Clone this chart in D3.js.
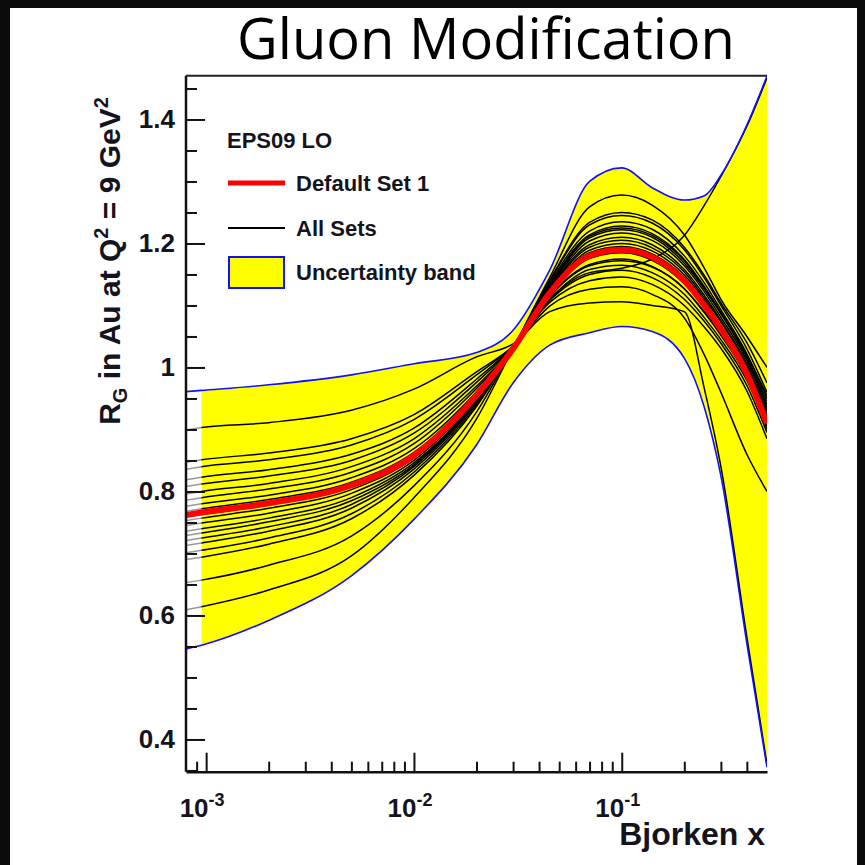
<!DOCTYPE html>
<html>
<head>
<meta charset="utf-8">
<script src="https://cdn.jsdelivr.net/npm/d3@7"></script>
<style>
  body { margin: 0; background: #000; }
  svg { display: block; }
</style>
</head>
<body>
<svg id="chart" width="865" height="865"></svg>
<script>
// Bjorken x knots shared by every curve
const knots = [8e-4, 9.5e-4, 2e-3, 5e-3, 0.01, 0.02, 0.03, 0.045, 0.07, 0.1, 0.14, 0.2, 0.25, 0.3, 0.4, 0.5];

const bandUpper = [0.961, 0.963, 0.972, 0.988, 1.006, 1.024, 1.06, 1.157, 1.30, 1.322, 1.29, 1.27, 1.277, 1.31, 1.391, 1.47];
const bandLower = [0.546, 0.552, 0.592, 0.664, 0.755, 0.875, 0.975, 1.036, 1.056, 1.066, 1.058, 1.015, 0.935, 0.825, 0.555, 0.355];
const defaultSet = [0.762, 0.766, 0.781, 0.81, 0.858, 0.955, 1.03, 1.12, 1.18, 1.19, 1.178, 1.14, 1.10, 1.062, 0.99, 0.91];

// the error sets (black lines)
const allSets = [
  [0.899, 0.903, 0.911, 0.931, 0.965, 1.017, 1.038, 1.09, 1.104, 1.106, 1.10, 1.09, 0.965, 0.84, 0.565, 0.36],
  [0.847, 0.851, 0.862, 0.885, 0.924, 0.993, 1.034, 1.099, 1.126, 1.13, 1.118, 1.08, 1.02, 0.96, 0.86, 0.80],
  [0.836, 0.840, 0.851, 0.875, 0.916, 0.988, 1.035, 1.105, 1.14, 1.146, 1.134, 1.10, 1.065, 1.031, 0.962, 0.885],
  [0.819, 0.823, 0.835, 0.86, 0.902, 0.981, 1.034, 1.108, 1.15, 1.157, 1.145, 1.11, 1.074, 1.039, 0.971, 0.895],
  [0.808, 0.812, 0.825, 0.85, 0.894, 0.976, 1.033, 1.11, 1.158, 1.165, 1.153, 1.118, 1.08, 1.045, 0.979, 0.905],
  [0.796, 0.80, 0.813, 0.84, 0.885, 0.97, 1.031, 1.11, 1.153, 1.16, 1.175, 1.213, 1.262, 1.308, 1.389, 1.467],
  [0.786, 0.79, 0.804, 0.831, 0.877, 0.966, 1.031, 1.115, 1.166, 1.175, 1.163, 1.127, 1.088, 1.052, 0.985, 0.91],
  [0.776, 0.78, 0.794, 0.822, 0.869, 0.961, 1.031, 1.118, 1.176, 1.185, 1.173, 1.135, 1.096, 1.059, 0.99, 0.915],
  [0.768, 0.772, 0.787, 0.815, 0.863, 0.958, 1.032, 1.123, 1.189, 1.20, 1.188, 1.149, 1.108, 1.066, 0.985, 0.90],
  [0.759, 0.763, 0.778, 0.808, 0.857, 0.954, 1.029, 1.114, 1.164, 1.172, 1.162, 1.127, 1.09, 1.057, 0.995, 0.93],
  [0.764, 0.768, 0.783, 0.812, 0.859, 0.955, 1.031, 1.13, 1.209, 1.222, 1.21, 1.168, 1.126, 1.087, 1.02, 0.955],
  [0.753, 0.757, 0.773, 0.803, 0.854, 0.953, 1.03, 1.122, 1.185, 1.195, 1.183, 1.145, 1.104, 1.066, 0.996, 0.92],
  [0.745, 0.749, 0.765, 0.797, 0.85, 0.951, 1.031, 1.125, 1.194, 1.205, 1.193, 1.154, 1.112, 1.073, 1.002, 0.925],
  [0.736, 0.74, 0.757, 0.79, 0.846, 0.948, 1.032, 1.127, 1.198, 1.21, 1.198, 1.158, 1.116, 1.076, 1.006, 0.93],
  [0.729, 0.733, 0.751, 0.785, 0.843, 0.947, 1.033, 1.129, 1.204, 1.217, 1.205, 1.164, 1.122, 1.081, 1.011, 0.935],
  [0.721, 0.725, 0.743, 0.779, 0.84, 0.945, 1.032, 1.132, 1.212, 1.225, 1.213, 1.172, 1.128, 1.087, 1.015, 0.94],
  [0.713, 0.717, 0.736, 0.773, 0.836, 0.943, 1.032, 1.136, 1.22, 1.235, 1.223, 1.18, 1.136, 1.093, 1.022, 0.95],
  [0.701, 0.705, 0.725, 0.764, 0.831, 0.94, 1.03, 1.133, 1.214, 1.228, 1.216, 1.174, 1.13, 1.089, 1.017, 0.945],
  [0.69, 0.694, 0.715, 0.756, 0.826, 0.937, 1.031, 1.139, 1.23, 1.245, 1.233, 1.19, 1.144, 1.10, 1.03, 0.96],
  [0.653, 0.657, 0.681, 0.728, 0.809, 0.928, 1.031, 1.141, 1.234, 1.25, 1.238, 1.194, 1.148, 1.104, 1.04, 0.975],
  [0.609, 0.614, 0.641, 0.696, 0.79, 0.917, 1.031, 1.145, 1.259, 1.278, 1.262, 1.214, 1.16, 1.11, 1.05, 1.0]
];

const yMajorTicks = [0.4, 0.6, 0.8, 1, 1.2, 1.4];
const yTickLabels = ['0.4', '0.6', '0.8', '1', '1.2', '1.4'];
const xMajorTicks = [1e-3, 1e-2, 1e-1];
const xTickExponents = ['-3', '-2', '-1'];

const svg = d3.select('#chart');
const W = 865, H = 865;
const pLeft = 186, pRight = 767, pTop = 75.7, pBottom = 771.7;
const font = "'Liberation Sans', Arial, Helvetica, sans-serif";
const ink = '#141420';

// black slide border + white page
svg.append('rect').attr('width', W).attr('height', H).attr('fill', '#0b0b0b');
svg.append('rect').attr('x', 10).attr('y', 8).attr('width', 847).attr('height', H - 8).attr('fill', '#fff');

svg.append('text')
  .attr('x', 486).attr('y', 59)
  .attr('text-anchor', 'middle')
  .attr('font-family', "'Open Sans', 'Noto Sans', sans-serif")
  .attr('font-size', 56)
  .attr('textLength', 498)
  .attr('lengthAdjust', 'spacingAndGlyphs')
  .attr('fill', '#000')
  .text('Gluon Modification');

const x = d3.scaleLog().domain([8e-4, 0.5]).range([pLeft, pRight]);
const y = d3.scaleLinear().domain([0.348, 1.4706]).range([pBottom, pTop]);

const pts = vals => vals.map((v, i) => [knots[i], v]);

const line = d3.line()
  .x(d => x(d[0])).y(d => y(d[1]))
  .curve(d3.curveMonotoneX);

const area = d3.area()
  .x(d => x(d[0])).y0(d => y(d[1])).y1(d => y(d[2]))
  .curve(d3.curveMonotoneX);

svg.append('clipPath').attr('id', 'plotclip')
  .append('rect').attr('x', pLeft).attr('y', pTop).attr('width', pRight - pLeft).attr('height', pBottom - pTop + 4);

const plot = svg.append('g').attr('clip-path', 'url(#plotclip)');

// yellow uncertainty band (starts just below 1e-3)
const bandRows = knots.map((k, i) => [k, bandLower[i], bandUpper[i]]).slice(1);
plot.append('path')
  .attr('d', area(bandRows))
  .attr('fill', '#ffff00');

// all sets
plot.selectAll('path.set')
  .data(allSets)
  .enter().append('path')
  .attr('class', 'set')
  .attr('d', d => line(pts(d)))
  .attr('fill', 'none')
  .attr('stroke', '#000')
  .attr('stroke-width', 1.5);

// the sets fade out left of the band
plot.append('rect')
  .attr('x', pLeft).attr('y', pTop)
  .attr('width', x(knots[1]) - pLeft).attr('height', pBottom - pTop)
  .attr('fill', '#fff').attr('opacity', 0.6);

// band edges
[bandUpper, bandLower].forEach(b => {
  plot.append('path')
    .attr('d', line(pts(b)))
    .attr('fill', 'none')
    .attr('stroke', '#1010ff')
    .attr('stroke-width', 1.6);
});

// default set
plot.append('path')
  .attr('d', line(pts(defaultSet)))
  .attr('fill', 'none')
  .attr('stroke', '#ff0000')
  .attr('stroke-width', 6);

// frame top
svg.append('line')
  .attr('x1', pLeft).attr('x2', pRight).attr('y1', pTop).attr('y2', pTop)
  .attr('stroke', '#222').attr('stroke-width', 2);

// x axis, ticks pointing inwards
const xMinor = x.ticks().filter(t => xMajorTicks.indexOf(t) < 0 && t > 8.5e-4 && t < 0.49);
const xAxisG = svg.append('g').attr('transform', `translate(0,${pBottom})`);
xAxisG.call(d3.axisBottom(x).tickValues(xMinor).tickSize(-10).tickSizeOuter(0).tickFormat(''));
const xMajG = svg.append('g').attr('transform', `translate(0,${pBottom})`);
xMajG.call(d3.axisBottom(x).tickValues(xMajorTicks).tickSize(-19).tickSizeOuter(0).tickFormat(''));
xMajG.select('.domain').remove();
xAxisG.select('.domain').attr('stroke', '#111').attr('stroke-width', 2.5);

xMajorTicks.forEach((t, i) => {
  const tx = svg.append('text')
    .attr('x', x(t) - 4).attr('y', 817)
    .attr('text-anchor', 'middle')
    .attr('font-family', font).attr('font-weight', 'bold')
    .attr('font-size', 26).attr('fill', ink);
  tx.append('tspan').text('10');
  tx.append('tspan').attr('dy', -11).attr('font-size', 18).text(xTickExponents[i]);
});

svg.append('text')
  .attr('x', 765).attr('y', 845)
  .attr('text-anchor', 'end')
  .attr('font-family', font).attr('font-weight', 'bold')
  .attr('font-size', 32).attr('fill', ink)
  .text('Bjorken x');

// y axis, ticks pointing inwards
const yMinor = d3.range(7, 30).map(k => +(k * 0.05).toFixed(2)).filter(v => yMajorTicks.indexOf(v) < 0);
const yAxisG = svg.append('g').attr('transform', `translate(${pLeft},0)`);
yAxisG.call(d3.axisLeft(y).tickValues(yMinor).tickSize(-11).tickSizeOuter(0).tickFormat(''));
yAxisG.select('.domain').attr('d', `M0,${pTop}V${pBottom}`).attr('stroke', '#111').attr('stroke-width', 2.5);
const yMajG = svg.append('g').attr('transform', `translate(${pLeft},0)`);
yMajG.call(d3.axisLeft(y).tickValues(yMajorTicks).tickSize(-19).tickSizeOuter(0).tickFormat(''));
yMajG.select('.domain').remove();
svg.selectAll('.tick line').attr('stroke', '#111').attr('stroke-width', 2);

yMajorTicks.forEach((t, i) => {
  svg.append('text')
    .attr('x', 175).attr('y', y(t) + 9)
    .attr('text-anchor', 'end')
    .attr('font-family', font).attr('font-weight', 'bold')
    .attr('font-size', 26).attr('fill', ink)
    .text(yTickLabels[i]);
});

// y title
const yt = svg.append('text')
  .attr('transform', 'translate(120,261) rotate(-90)')
  .attr('text-anchor', 'middle')
  .attr('font-family', font).attr('font-weight', 'bold')
  .attr('font-size', 30).attr('fill', ink);
yt.append('tspan').text('R');
yt.append('tspan').attr('dy', 7).attr('font-size', 20).text('G');
yt.append('tspan').attr('dy', -7).text(' in Au at Q');
yt.append('tspan').attr('dy', -12).attr('font-size', 20).text('2');
yt.append('tspan').attr('dy', 12).text(' = 9 GeV');
yt.append('tspan').attr('dy', -12).attr('font-size', 20).text('2');

// legend
const lg = svg.append('g').attr('font-family', font).attr('font-weight', 'bold').attr('fill', ink);
lg.append('text').attr('x', 227).attr('y', 148).attr('font-size', 22).text('EPS09 LO');
lg.append('line').attr('x1', 228).attr('x2', 285).attr('y1', 183).attr('y2', 183)
  .attr('stroke', '#ff0000').attr('stroke-width', 5);
lg.append('text').attr('x', 296).attr('y', 191).attr('font-size', 22).text('Default Set 1');
lg.append('line').attr('x1', 228).attr('x2', 285).attr('y1', 228).attr('y2', 228)
  .attr('stroke', '#000').attr('stroke-width', 2);
lg.append('text').attr('x', 296).attr('y', 236).attr('font-size', 22).text('All Sets');
lg.append('rect').attr('x', 229).attr('y', 257).attr('width', 55).attr('height', 31)
  .attr('fill', '#ffff00').attr('stroke', '#1010ff').attr('stroke-width', 2);
lg.append('text').attr('x', 296).attr('y', 280).attr('font-size', 22).text('Uncertainty band');
</script>
</body>
</html>
